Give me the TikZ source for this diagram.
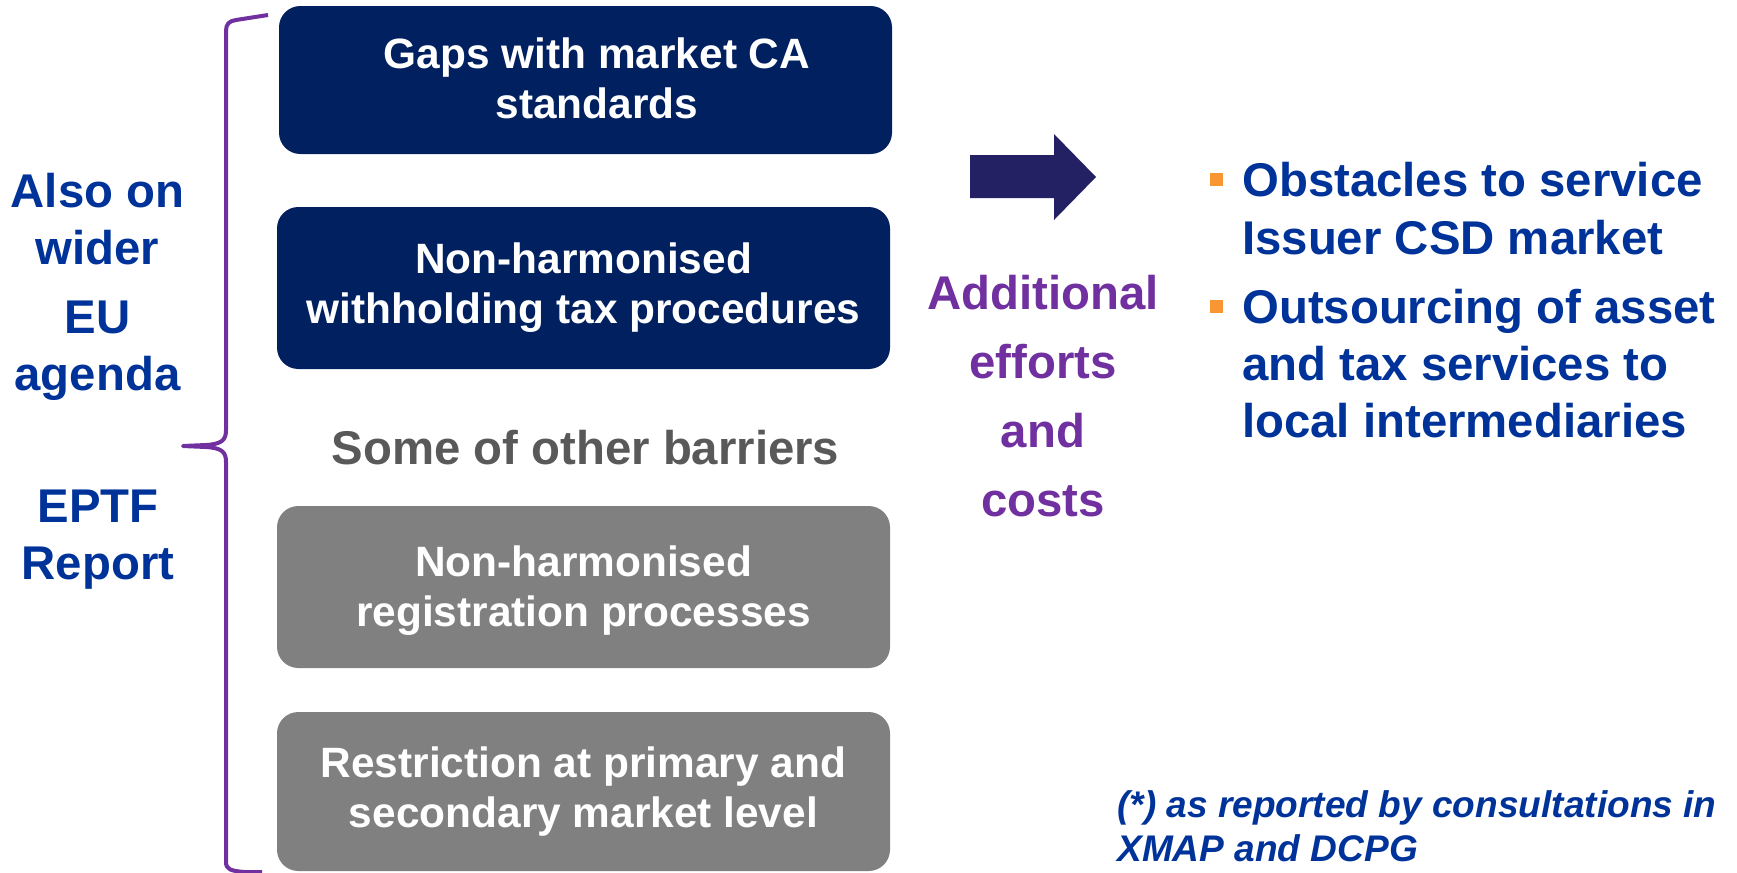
\documentclass[tikz,border=0pt]{standalone}
\usepackage{fontspec}
\setmainfont{Liberation Sans}

\definecolor{boxnavy}{RGB}{0,32,96}
\definecolor{boxgrey}{RGB}{128,128,128}
\definecolor{labelblue}{RGB}{0,51,153}
\definecolor{costpurple}{RGB}{112,48,160}
\definecolor{arrownavy}{RGB}{35,33,99}
\definecolor{bulletorange}{RGB}{250,150,50}
\definecolor{othergrey}{RGB}{89,89,89}

\newcommand{\barrierfont}{\fontsize{31.8}{37.5}\selectfont\bfseries}
\newcommand{\sidefont}{\fontsize{35.5}{42.75}\selectfont\bfseries}
\newcommand{\notefont}{\fontsize{27.8}{33}\selectfont\bfseries\itshape}

\begin{document}
\begin{tikzpicture}[x=0.75pt,y=0.75pt,yscale=-1,xscale=1,
  barrier/.style={rounded corners=16pt,inner sep=0pt,minimum width=459.75pt,text=white,align=center,font=\barrierfont},
  navybox/.style={barrier,fill=boxnavy},
  greybox/.style={barrier,fill=boxgrey},
  barriertext/.style={inner sep=0pt,text=white,align=center,font=\barrierfont},
  sidelabel/.style={inner sep=0pt,align=center,text=labelblue,font=\sidefont},
  bullettext/.style={inner sep=0pt,anchor=west,align=left,text=labelblue,font=\fontsize{35.5}{43}\selectfont\bfseries},
  bulletsq/.style={inner sep=0pt,minimum size=9.75pt,fill=bulletorange}]
%set diagram to 1737 x 872
\fill [white] (0,0) rectangle (1737,872);
\useasboundingbox (0,0) rectangle (1737,872);

%Shape: Brace
\draw [color=costpurple,line width=3pt,line join=round] (268,15) -- (236,20) .. controls (229,21) and (226,24) .. (226,31) -- (226,430) .. controls (226,440) and (222,444) .. (206,445) -- (183,446) -- (206,447) .. controls (222,448) and (226,452) .. (226,462) -- (226,862) .. controls (226,869) and (230,871) .. (245,872) -- (262,872) ;

%Shape: Rounded Rectangles
\draw (585.5,80) node (gaps) [navybox,minimum height=111pt] {};
\draw (597,78) node (gapstext) [barriertext] {Gaps with market CA\\standards};
\draw (583.5,288) node (withholding) [navybox,minimum height=121.5pt] {Non-harmonised\\withholding tax procedures};
\draw (583.5,587) node (registration) [greybox,minimum height=121.5pt] {};
\draw (583.5,591) node (registrationtext) [barriertext] {Non-harmonised\\registration processes};
\draw (583.5,791.5) node (restriction) [greybox,minimum height=119.25pt] {Restriction at primary and\\secondary market level};

%Shape: Right Arrow
\fill [arrownavy] (970,155) -- (1054,155) -- (1054,134) -- (1096,177) -- (1054,220) -- (1054,198) -- (970,198) -- cycle ;

% Text Node
\draw (97.5,286.5) node (wideragenda) [sidelabel] {Also on\\wider\\[9pt]EU\\agenda};
% Text Node
\draw (98,540) node (eptf) [sidelabel] {EPTF\\Report};
% Text Node
\draw (585.5,448) node (otherbarriers) [inner sep=0pt,text=othergrey,font=\fontsize{35.5}{42}\selectfont\bfseries] {Some of other barriers};
% Text Node
\draw (1043,396) node (efforts) [inner sep=0pt,align=center,text=costpurple,font=\fontsize{35.5}{51.75}\selectfont\bfseries] {Additional\\efforts\\and\\costs};

% Bullets
\draw (1216.5,179.5) node (bulletA) [bulletsq] {};
\draw (1216.5,306) node (bulletB) [bulletsq] {};
% Text Node
\draw (1242,208.5) node (obstacles) [bullettext] {Obstacles to service\\Issuer CSD market};
% Text Node
\draw (1242,363.5) node (outsourcing) [bullettext] {Outsourcing of asset\\and tax services to\\local intermediaries};

% Text Node
\draw (1117,826) node (footnote) [inner sep=0pt,anchor=west,align=left,text=labelblue,font=\notefont] {(*) as reported by consultations in\\XMAP and DCPG};

\end{tikzpicture}
\end{document}
